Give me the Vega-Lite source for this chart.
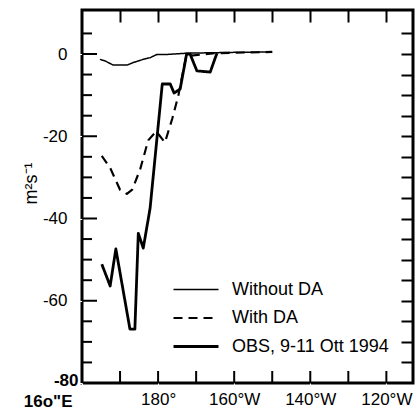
{
  "$schema": "https://vega.github.io/schema/vega-lite/v6.json",
  "width": 331,
  "height": 373,
  "autosize": {"type": "none"},
  "padding": {"left": 82, "top": 10, "right": 7, "bottom": 34},
  "background": "white",
  "config": {
    "view": {"stroke": "black", "strokeWidth": 3},
    "font": "Liberation Sans",
    "axis": {"domain": false, "grid": false, "labelColor": "black", "titleColor": "black", "labelOverlap": false, "labelFlush": false, "labelBound": false}
  },
  "data": {
    "values": [
      {"series": "Without DA", "lon": 164.7, "val": -1.3},
      {"series": "Without DA", "lon": 166.1, "val": -1.7},
      {"series": "Without DA", "lon": 168.2, "val": -2.7},
      {"series": "Without DA", "lon": 171.8, "val": -2.7},
      {"series": "Without DA", "lon": 173.4, "val": -2.1},
      {"series": "Without DA", "lon": 176.1, "val": -1.3},
      {"series": "Without DA", "lon": 177.9, "val": -0.9},
      {"series": "Without DA", "lon": 179.7, "val": -0.1},
      {"series": "Without DA", "lon": 182.6, "val": -0.1},
      {"series": "Without DA", "lon": 187.6, "val": 0.2},
      {"series": "Without DA", "lon": 200, "val": 0.4},
      {"series": "Without DA", "lon": 210, "val": 0.5},
      {"series": "With DA", "lon": 165.2, "val": -24.8},
      {"series": "With DA", "lon": 167.4, "val": -27.7},
      {"series": "With DA", "lon": 170, "val": -33.0},
      {"series": "With DA", "lon": 171.8, "val": -34.0},
      {"series": "With DA", "lon": 173.2, "val": -33.0},
      {"series": "With DA", "lon": 175.3, "val": -28.0},
      {"series": "With DA", "lon": 177.4, "val": -21.0},
      {"series": "With DA", "lon": 179.5, "val": -18.8},
      {"series": "With DA", "lon": 181.8, "val": -21.5},
      {"series": "With DA", "lon": 183.7, "val": -15.8},
      {"series": "With DA", "lon": 185.3, "val": -10.2},
      {"series": "With DA", "lon": 186.6, "val": -4.1},
      {"series": "With DA", "lon": 187.4, "val": -0.5},
      {"series": "With DA", "lon": 195, "val": 0.2},
      {"series": "With DA", "lon": 210, "val": 0.5},
      {"series": "OBS, 9-11 Ott 1994", "lon": 165.2, "val": -51.1},
      {"series": "OBS, 9-11 Ott 1994", "lon": 167.4, "val": -56.4},
      {"series": "OBS, 9-11 Ott 1994", "lon": 168.9, "val": -47.4},
      {"series": "OBS, 9-11 Ott 1994", "lon": 172.6, "val": -66.9},
      {"series": "OBS, 9-11 Ott 1994", "lon": 173.9, "val": -66.9},
      {"series": "OBS, 9-11 Ott 1994", "lon": 174.8, "val": -43.6},
      {"series": "OBS, 9-11 Ott 1994", "lon": 176.1, "val": -47.2},
      {"series": "OBS, 9-11 Ott 1994", "lon": 177.9, "val": -37.5},
      {"series": "OBS, 9-11 Ott 1994", "lon": 181.1, "val": -7.3},
      {"series": "OBS, 9-11 Ott 1994", "lon": 183.2, "val": -7.3},
      {"series": "OBS, 9-11 Ott 1994", "lon": 184.2, "val": -9.5},
      {"series": "OBS, 9-11 Ott 1994", "lon": 185.8, "val": -8.5},
      {"series": "OBS, 9-11 Ott 1994", "lon": 187.5, "val": 0.0},
      {"series": "OBS, 9-11 Ott 1994", "lon": 188.4, "val": 0.0},
      {"series": "OBS, 9-11 Ott 1994", "lon": 190.2, "val": -4.1},
      {"series": "OBS, 9-11 Ott 1994", "lon": 193.7, "val": -4.4},
      {"series": "OBS, 9-11 Ott 1994", "lon": 195.0, "val": -1.0},
      {"series": "OBS, 9-11 Ott 1994", "lon": 195.5, "val": 0.2}
    ]
  },
  "layer": [
    {
      "mark": {"type": "line", "color": "black", "strokeCap": "butt", "strokeJoin": "round"},
      "encoding": {
        "x": {
          "field": "lon", "type": "quantitative",
          "scale": {"domain": [160, 247], "nice": false, "zero": false},
          "axis": {
            "orient": "bottom", "title": null, "tickSize": 8, "tickColor": "white", "tickWidth": 1,
            "values": [180, 200, 220, 240],
            "labelExpr": "datum.value == 180 ? '180°' : datum.value == 200 ? '160°W' : datum.value == 220 ? '140°W' : '120°W'",
            "labelFontSize": 17,
            "labelPadding": 0
          }
        },
        "y": {
          "field": "val", "type": "quantitative",
          "scale": {"domain": [-80, 10.7], "nice": false, "zero": false},
          "axis": {
            "orient": "left", "tickSize": 15, "tickColor": "white", "tickWidth": 1,
            "values": [-60, -40, -20, 0],
            "labelExpr": "'' + datum.value",
            "labelFontSize": 17,
            "labelPadding": 0,
            "title": "m²s⁻¹",
            "titleFontSize": 18,
            "titleFontWeight": "normal",
            "titleX": -42,
            "titleY": 173
          }
        },
        "strokeDash": {
          "field": "series", "type": "ordinal",
          "scale": {"domain": ["Without DA", "With DA", "OBS, 9-11 Ott 1994"], "range": [[1, 0], [9, 6], [1, 0]]},
          "legend": {"title": null, "orient": "none", "legendX": 90, "legendY": 266, "symbolType": "stroke", "symbolSize": 2025, "symbolStrokeColor": "black", "labelFontSize": 18, "labelFont": "Liberation Sans", "labelColor": "black", "labelOffset": 12, "rowPadding": 1.5, "clipHeight": 27}
        },
        "strokeWidth": {
          "field": "series", "type": "ordinal",
          "scale": {"domain": ["Without DA", "With DA", "OBS, 9-11 Ott 1994"], "range": [1.5, 2.8, 5.5]},
          "legend": {"title": null, "orient": "none", "legendX": 90, "legendY": 266, "symbolType": "stroke", "symbolSize": 2025, "symbolStrokeColor": "black", "labelFontSize": 18, "labelFont": "Liberation Sans", "labelColor": "black", "labelOffset": 12, "rowPadding": 1.5, "clipHeight": 27}
        }
      }
    },
    {
      "mark": {"type": "line", "opacity": 0},
      "encoding": {
        "x": {
          "field": "lon", "type": "quantitative",
          "scale": {"domain": [160, 247], "nice": false, "zero": false},
          "axis": {"orient": "top", "title": null, "labels": false, "values": [170, 180, 190, 200, 210, 220, 230, 240], "tickSize": -12, "tickColor": "black", "tickWidth": 2}
        },
        "y": {
          "field": "val", "type": "quantitative",
          "scale": {"domain": [-80, 10.7], "nice": false, "zero": false},
          "axis": {"orient": "right", "title": null, "labels": false, "values": [-75, -70, -65, -60, -55, -50, -45, -40, -35, -30, -25, -20, -15, -10, -5, 0, 5], "tickSize": -12, "tickColor": "black", "tickWidth": 2}
        },
        "detail": {"field": "series"}
      }
    },
    {
      "mark": {"type": "line", "opacity": 0},
      "encoding": {
        "x": {
          "field": "lon", "type": "quantitative",
          "scale": {"domain": [160, 247], "nice": false, "zero": false},
          "axis": {"orient": "bottom", "title": null, "tickSize": 8, "tickColor": "white", "tickWidth": 1, "values": [160], "labelExpr": "'16o\"E'", "labelFontSize": 17, "labelFontWeight": "bold", "labelAlign": "right", "labelOffset": -10, "labelPadding": 2}
        },
        "y": {
          "field": "val", "type": "quantitative",
          "scale": {"domain": [-80, 10.7], "nice": false, "zero": false},
          "axis": {"orient": "left", "title": null, "tickSize": 4, "tickColor": "white", "tickWidth": 1, "values": [-80], "labelExpr": "'' + datum.value", "labelFontSize": 17, "labelFontWeight": "bold", "labelPadding": 0, "labelOffset": -3}
        },
        "detail": {"field": "series"}
      }
    },
    {
      "data": {"values": [{"v": -60}, {"v": -40}, {"v": -20}, {"v": 0}]},
      "mark": {"type": "tick", "orient": "horizontal", "color": "black", "opacity": 1, "thickness": 2, "size": 30, "clip": true},
      "encoding": {
        "x": {"datum": 160, "type": "quantitative", "scale": {"domain": [160, 247], "nice": false, "zero": false}, "axis": null},
        "y": {"field": "v", "type": "quantitative", "scale": {"domain": [-80, 10.7], "nice": false, "zero": false}, "axis": null}
      }
    },
    {
      "data": {"values": [{"v": -75}, {"v": -70}, {"v": -65}, {"v": -55}, {"v": -50}, {"v": -45}, {"v": -35}, {"v": -30}, {"v": -25}, {"v": -15}, {"v": -10}, {"v": -5}, {"v": 5}]},
      "mark": {"type": "tick", "orient": "horizontal", "color": "black", "opacity": 1, "thickness": 2, "size": 20, "clip": true},
      "encoding": {
        "x": {"datum": 160, "type": "quantitative", "scale": {"domain": [160, 247], "nice": false, "zero": false}, "axis": null},
        "y": {"field": "v", "type": "quantitative", "scale": {"domain": [-80, 10.7], "nice": false, "zero": false}, "axis": null}
      }
    },
    {
      "data": {"values": [{"v": 170}, {"v": 180}, {"v": 190}, {"v": 200}, {"v": 210}, {"v": 220}, {"v": 230}, {"v": 240}]},
      "mark": {"type": "tick", "orient": "vertical", "color": "black", "opacity": 1, "thickness": 2, "size": 24, "clip": true},
      "encoding": {
        "x": {"field": "v", "type": "quantitative", "scale": {"domain": [160, 247], "nice": false, "zero": false}, "axis": null},
        "y": {"datum": -80, "type": "quantitative", "scale": {"domain": [-80, 10.7], "nice": false, "zero": false}, "axis": null}
      }
    }
  ],
  "resolve": {"scale": {"x": "independent", "y": "independent"}}
}
